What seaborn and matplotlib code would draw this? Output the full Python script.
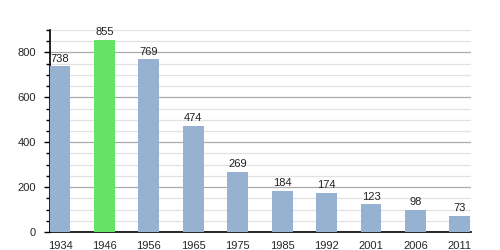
import matplotlib
matplotlib.use("Agg")
import matplotlib.pyplot as plt
import seaborn as sns
import pandas as pd
from matplotlib.ticker import MultipleLocator

years = ["1934", "1946", "1956", "1965", "1975", "1985", "1992", "2001", "2006", "2011"]
population = [738, 855, 769, 474, 269, 184, 174, 123, 98, 73]
highlight = "1946"

sns.set_theme(style="white")
plt.rcParams['font.family'] = ['Liberation Sans', 'DejaVu Sans']

df = pd.DataFrame({"year": years, "pop": population})
blue = "#97b2d0"
green = "#66e266"
palette = {y: (green if y == highlight else blue) for y in years}

fig = plt.figure(figsize=(5, 2.5), dpi=100)
ax = fig.add_axes([0.1, 0.072, 0.842, 0.808])

sns.barplot(data=df, x="year", y="pop", hue="year", palette=palette, legend=False,
            width=0.47, ax=ax, saturation=1, zorder=3, linewidth=0, edgecolor="none")

ax.set_ylim(0, 900)
ax.set_xlim(-0.225, 9.25)
ax.yaxis.set_major_locator(MultipleLocator(200))
ax.yaxis.set_minor_locator(MultipleLocator(50))
ax.grid(True, which="minor", axis="y", color="#e2e2e2", linewidth=0.9, zorder=0)
ax.grid(True, which="major", axis="y", color="#aaaaaa", linewidth=0.9, zorder=1)
ax.set_axisbelow(True)

for s in ["top", "right"]:
    ax.spines[s].set_visible(False)
for s in ["left", "bottom"]:
    ax.spines[s].set_color("black")
    ax.spines[s].set_linewidth(1.2)

ax.tick_params(axis="y", which="major", left=True, length=4, width=1, color="black",
               labelsize=8, pad=6)
ax.tick_params(axis="y", which="minor", left=True, length=3, width=1, color="black")
ax.tick_params(axis="x", which="major", bottom=False, labelsize=8, pad=0.5)
ax.set_xlabel("")
ax.set_ylabel("")

for i, v in enumerate(population):
    ax.text(i, v + 12, str(v), ha="center", va="bottom", fontsize=8, color="#222222")

fig.savefig("out.png", dpi=100)
